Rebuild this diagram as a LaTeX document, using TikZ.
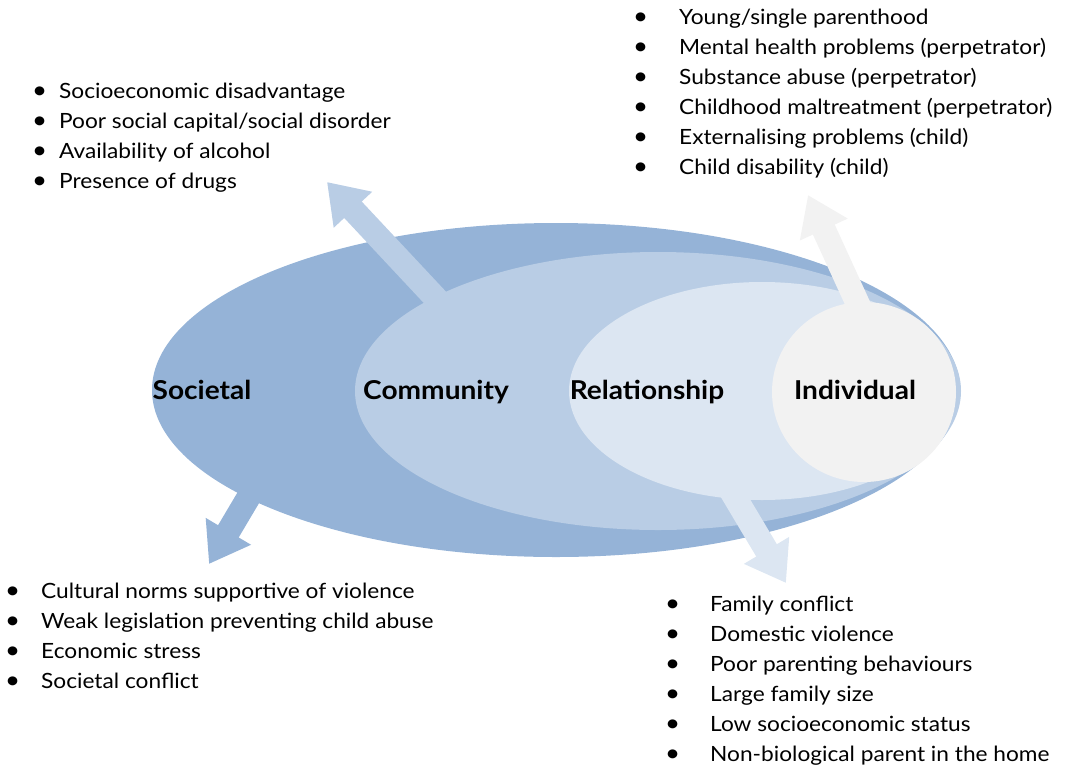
\documentclass[tikz,border=0pt]{standalone}
\usepackage{fontspec}
\setmainfont{Lato}[FakeStretch=1.08]
\usetikzlibrary{arrows.meta}
\definecolor{cSoc}{HTML}{95B3D7}
\definecolor{cCom}{HTML}{B9CDE5}
\definecolor{cRel}{HTML}{DCE6F2}
\definecolor{cInd}{HTML}{F2F2F2}
\newcommand{\bul}[1]{\makebox[#1][l]{\fontsize{24}{24}\selectfont\textbullet}}
\begin{document}
\begin{tikzpicture}[x=1pt,y=-1pt,
  item/.style={anchor=base west, inner sep=0pt, font=\fontsize{21}{25}\selectfont},
  lvl/.style={anchor=base, inner sep=0pt, font=\bfseries\fontsize{26}{30}\selectfont},
  barrow/.style={line width=24pt, -{Triangle[length=38pt,width=50pt]}}
]
\useasboundingbox (0,0) rectangle (1068,769);
% ellipses
\fill[cSoc] (556,390) ellipse [x radius=404pt, y radius=167pt];
\coordinate (socS) at (260,478);
\coordinate (socT) at (209,564);
\draw[barrow, cSoc] (socS) -- (socT);
\fill[cCom] (658,391) ellipse [x radius=303pt, y radius=139pt];
\coordinate (comS) at (443,306);
\coordinate (comT) at (327,182);
\draw[barrow, cCom] (comS) -- (comT);
\fill[cRel] (762,391) ellipse [x radius=193pt, y radius=109pt];
\coordinate (relS) at (727,484);
\coordinate (relT) at (786,583);
\draw[barrow, cRel] (relS) -- (relT);
\fill[cInd] (864,392) ellipse [x radius=92pt, y radius=90pt];
\coordinate (indS) at (862,313);
\coordinate (indT) at (808,195);
\draw[barrow, cInd] (indS) -- (indT);
% level labels
\node[lvl] (soc) at (202,399) {Societal};
\node[lvl] (com) at (436,399) {Community};
\node[lvl] (rel) at (647,399) {Relationship};
\node[lvl] (ind) at (855,399) {Individual};
% lists
\foreach \t [count=\i] in {Socioeconomic disadvantage, Poor social capital/social disorder, Availability of alcohol, Presence of drugs}
  \node[item] (tl\i) at (32,{98+30*(\i-1)}) {\bul{27pt}\t};
\foreach \t [count=\i] in {Young/single parenthood, Mental health problems (perpetrator), Substance abuse (perpetrator), Childhood maltreatment (perpetrator), Externalising problems (child), Child disability (child)}
  \node[item] (tr\i) at (633,{24+30*(\i-1)}) {\bul{46pt}\t};
\foreach \t [count=\i] in {Cultural norms supportive of violence, Weak legislation preventing child abuse, Economic stress, Societal conflict}
  \node[item] (bl\i) at (5,{598+30*(\i-1)}) {\bul{36pt}\t};
\foreach \t [count=\i] in {Family conflict, Domestic violence, Poor parenting behaviours, Large family size, Low socioeconomic status, Non-biological parent in the home}
  \node[item] (br\i) at (665,{611+30*(\i-1)}) {\bul{45pt}\t};
\end{tikzpicture}
\end{document}
